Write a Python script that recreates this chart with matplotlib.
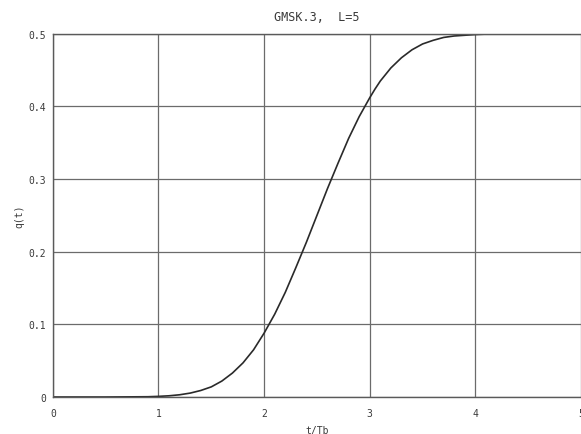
"""GMSK phase pulse q(t), BT=0.3, L=5."""

import matplotlib

matplotlib.use("Agg")
import matplotlib.pyplot as plt

# values
t_over_tb = [0.0, 0.5, 0.9, 1.0, 1.1, 1.2, 1.3, 1.4, 1.5, 1.6, 1.7, 1.8, 1.9,
             2.0, 2.1, 2.2, 2.3, 2.4, 2.5, 2.6, 2.7, 2.8, 2.9, 3.0, 3.05, 3.1,
             3.15, 3.2, 3.3, 3.4, 3.5, 3.6, 3.7, 3.8, 3.9, 4.0, 4.1, 4.5, 5.0]
q_values = [0.0, 0.0, 0.0004, 0.0009, 0.0017, 0.0031, 0.0054, 0.009, 0.014,
            0.022, 0.033, 0.047, 0.065, 0.088, 0.114, 0.144, 0.178, 0.213,
            0.25, 0.287, 0.322, 0.356, 0.386, 0.412, 0.424, 0.435, 0.444,
            0.453, 0.467, 0.478, 0.486, 0.491, 0.495, 0.497, 0.498, 0.499,
            0.4996, 0.5, 0.5]
x_ticks = [0, 1, 2, 3, 4, 5]
y_ticks = [0, 0.1, 0.2, 0.3, 0.4, 0.5]
y_tick_labels = ["0", "0.1", "0.2", "0.3", "0.4", "0.5"]

mono = "DejaVu Sans Mono"
ink = "#3a3a3a"

fig = plt.figure(figsize=(5.81, 4.35), dpi=100)
ax = fig.add_axes([0.091, 0.085, 0.909, 0.835])

ax.plot(t_over_tb, q_values, color="#2a2a2a", linewidth=1.2)

ax.set_xlim(0, 5)
ax.set_ylim(0, 0.5)
ax.set_xticks(x_ticks)
ax.set_xticklabels([str(v) for v in x_ticks], family=mono, fontsize=7, color=ink)
ax.set_yticks(y_ticks)
ax.set_yticklabels(y_tick_labels, family=mono, fontsize=7, color=ink)
ax.tick_params(length=0, pad=8)
ax.tick_params(axis="y", pad=5)
ax.grid(True, color="#6b6b6b", linewidth=0.9)
ax.set_axisbelow(True)
for side in ax.spines.values():
    side.set_color("#5a5a5a")
    side.set_linewidth(1.0)
ax.spines["right"].set_visible(False)

ax.set_title("GMSK.3,  L=5", family=mono, fontsize=8.5, color=ink, pad=10)
ax.set_xlabel("t/Tb", family=mono, fontsize=7, color=ink, labelpad=5)
ax.set_ylabel("q(t)", family=mono, fontsize=7, color=ink, labelpad=3)

fig.savefig("out.png", dpi=100)
